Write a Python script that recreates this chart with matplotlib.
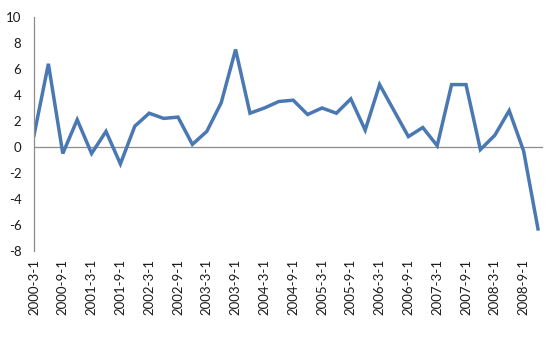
import matplotlib
matplotlib.use("Agg")
import matplotlib.pyplot as plt


OUTPUT_PATH = "out.png"

# quarterly values, 2000-3-1 .. 2008-12-1
values = [
    0.9, 6.4, -0.5, 2.1, -0.5, 1.2, -1.3, 1.6,
    2.6, 2.2, 2.3, 0.2, 1.2, 3.4, 7.5, 2.6,
    3.0, 3.5, 3.6, 2.5, 3.0, 2.6, 3.7, 1.3,
    4.8, 2.8, 0.8, 1.5, 0.1, 4.8, 4.8, -0.2,
    0.9, 2.8, -0.3, -6.3,
]

tick_labels = [
    "2000-3-1", "2000-9-1", "2001-3-1", "2001-9-1", "2002-3-1",
    "2002-9-1", "2003-3-1", "2003-9-1", "2004-3-1", "2004-9-1",
    "2005-3-1", "2005-9-1", "2006-3-1", "2006-9-1", "2007-3-1",
    "2007-9-1", "2008-3-1", "2008-9-1",
]

y_ticks = [-8, -6, -4, -2, 0, 2, 4, 6, 8, 10]


def plot_chart():

    plt.rcParams["font.family"] = ["Lato", "DejaVu Sans"]

    fig = plt.figure(figsize=(5.6, 3.38), dpi=100)
    ax = fig.add_axes([0.0607, 0.2574, 0.909, 0.6923])

    x = list(range(len(values)))

    ax.plot(x, values, color="#4a78b2", linewidth=2.5,
            solid_joinstyle="miter")

    ax.axhline(0, color="#8c8c8c", linewidth=0.9, zorder=0)

    ax.set_xlim(0, 35.35)
    ax.set_ylim(-8, 10)

    ax.set_yticks(y_ticks)
    ax.set_yticklabels([str(v) for v in y_ticks])

    ax.set_xticks(x[::2])
    ax.set_xticklabels(tick_labels, rotation=90)

    ax.tick_params(axis="both", length=0, labelsize=9.5,
                   labelcolor="#1a1a1a")
    ax.tick_params(axis="x", pad=6)
    ax.tick_params(axis="y", pad=9)

    for side in ["top", "right", "bottom"]:
        ax.spines[side].set_visible(False)
    ax.spines["left"].set_color("#8c8c8c")
    ax.spines["left"].set_linewidth(0.9)

    fig.savefig(OUTPUT_PATH, dpi=100)


if __name__ == "__main__":

    plot_chart()
